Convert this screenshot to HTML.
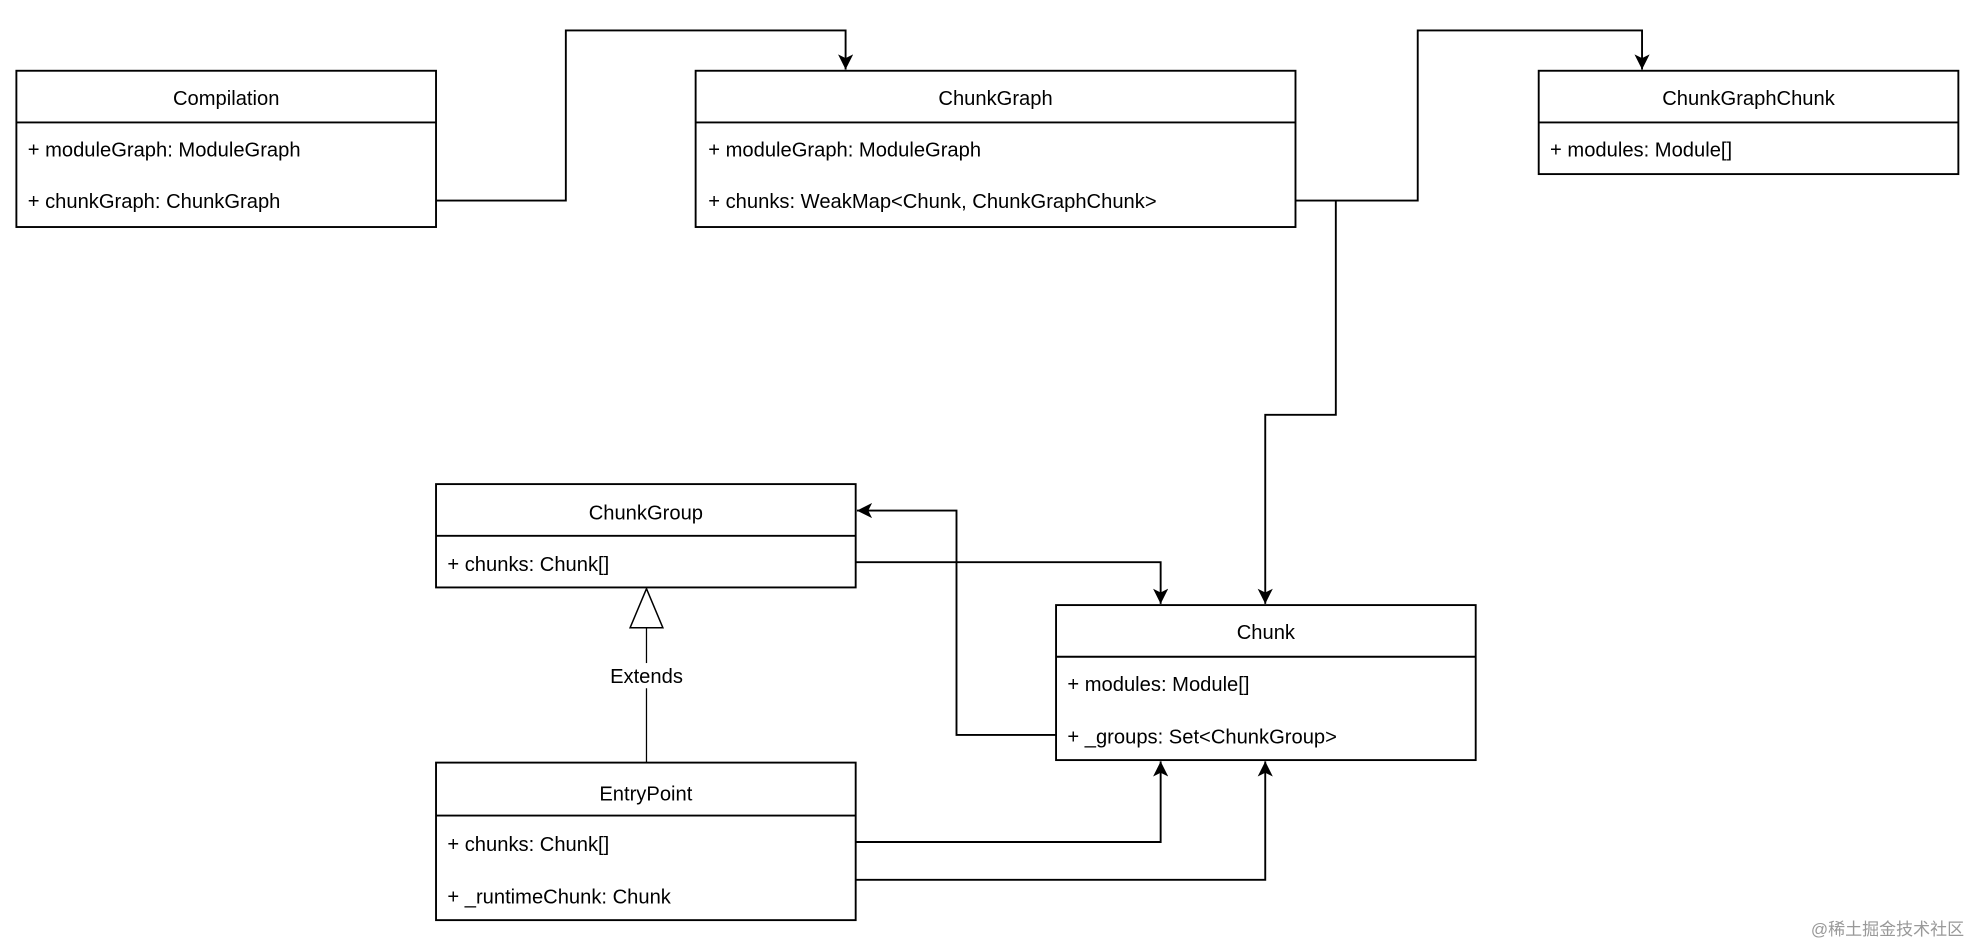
<!DOCTYPE html>
<html><head><meta charset="utf-8"><style>
html,body{margin:0;padding:0;background:#fff;}
svg{display:block;}
text{font-family:"Liberation Sans","Noto Sans CJK SC",sans-serif;font-size:16px;fill:#000;}
</style></head><body>
<svg width="1976" height="943" viewBox="0 0 1568 748" xmlns="http://www.w3.org/2000/svg">
<defs>
<marker id="a" markerWidth="14" markerHeight="12" refX="12" refY="6" orient="auto" markerUnits="userSpaceOnUse">
<path d="M0,0 L12,6 L0,12 L3,6 Z" fill="#000"/>
</marker>
</defs>
<g fill="#fff" stroke="#000" stroke-width="1.5">
<rect x="13" y="56" width="333" height="124"/>
<line x1="13" y1="97" x2="346" y2="97"/>
<rect x="552" y="56" width="476" height="124"/>
<line x1="552" y1="97" x2="1028" y2="97"/>
<rect x="1221" y="56" width="333" height="82"/>
<line x1="1221" y1="97" x2="1554" y2="97"/>
<rect x="346" y="384" width="333" height="82"/>
<line x1="346" y1="425" x2="679" y2="425"/>
<rect x="838" y="480" width="333" height="123"/>
<line x1="838" y1="521" x2="1171" y2="521"/>
<rect x="346" y="605" width="333" height="125"/>
<line x1="346" y1="647" x2="679" y2="647"/>
</g>
<g fill="none" stroke="#000" stroke-width="1.5">
<path d="M346,159 H449 V24 H671 V55" marker-end="url(#a)"/>
<path d="M1028,159 H1125 V24 H1303 V55" marker-end="url(#a)"/>
<path d="M1060,159 V329 H1004 V479" marker-end="url(#a)"/>
<path d="M679,446 H921 V479" marker-end="url(#a)"/>
<path d="M838,583 H759 V405 H680" marker-end="url(#a)"/>
<path d="M679,668 H921 V604" marker-end="url(#a)"/>
<path d="M679,698 H1004 V604" marker-end="url(#a)"/>
<path d="M513,605 V498" stroke-width="1"/>
<path d="M513,467 L526,498 L500,498 Z" fill="#fff" stroke-width="1.2"/>
</g>
<rect x="478" y="526" width="70" height="20" fill="#fff"/>
<text x="513" y="542" text-anchor="middle">Extends</text>
<text x="179.5" y="83" text-anchor="middle">Compilation</text>
<text x="22" y="124">+ moduleGraph: ModuleGraph</text>
<text x="22" y="165">+ chunkGraph: ChunkGraph</text>
<text x="790" y="83" text-anchor="middle">ChunkGraph</text>
<text x="562" y="124">+ moduleGraph: ModuleGraph</text>
<text x="562" y="165">+ chunks: WeakMap&lt;Chunk, ChunkGraphChunk&gt;</text>
<text x="1387.5" y="83" text-anchor="middle">ChunkGraphChunk</text>
<text x="1230" y="124">+ modules: Module[]</text>
<text x="512.5" y="412" text-anchor="middle">ChunkGroup</text>
<text x="355" y="453">+ chunks: Chunk[]</text>
<text x="1004.5" y="507" text-anchor="middle">Chunk</text>
<text x="847" y="548">+ modules: Module[]</text>
<text x="847" y="590">+ _groups: Set&lt;ChunkGroup&gt;</text>
<text x="512.5" y="635" text-anchor="middle">EntryPoint</text>
<text x="355" y="675">+ chunks: Chunk[]</text>
<text x="355" y="717">+ _runtimeChunk: Chunk</text>
<text x="1437" y="742" style="font-size:13.5px;fill:#999">@稀土掘金技术社区</text>
</svg>
</body></html>
